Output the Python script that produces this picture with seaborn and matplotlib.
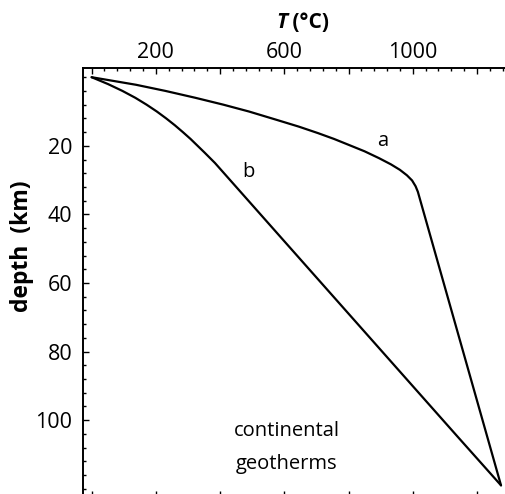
import matplotlib
matplotlib.use("Agg")
import matplotlib.pyplot as plt
import seaborn as sns
import pandas as pd
from matplotlib.ticker import MultipleLocator, FixedLocator

sns.set_style("white")
plt.rcParams['font.family'] = ['Open Sans', 'DejaVu Sans']
for k in ["text.color", "axes.labelcolor", "xtick.color", "ytick.color"]:
    plt.rcParams[k] = "black"

# Curve a (T in °C, depth in km)
a_T = [0, 138, 230, 323, 410, 490, 575, 645, 705, 755, 800, 850, 895, 932,
       960, 982, 998, 1009, 1016, 1275]
a_depth = [0, 2.2, 4.0, 6.0, 8.0, 10.0, 12.4, 14.4, 16.3, 18.0, 19.7, 21.6,
           23.6, 25.4, 27.0, 28.6, 30.1, 31.8, 33.4, 119]
# Curve b
b_T = [0, 51, 96, 136, 171, 203, 232, 259, 284, 308, 330, 352, 384, 597, 1135, 1275]
b_depth = [0, 2, 4, 6, 8, 10, 12, 14, 16, 18, 20, 22, 25, 47.5, 104.3, 119]

x_ticklabels = ["", "200", "", "600", "", "1000", ""]
x_ticks = [0, 200, 400, 600, 800, 1000, 1200]
y_ticks = [20, 40, 60, 80, 100]

df = pd.concat([
    pd.DataFrame({"T": a_T, "depth": a_depth, "curve": "a"}),
    pd.DataFrame({"T": b_T, "depth": b_depth, "curve": "b"}),
])

W, H = 506, 494
fig = plt.figure(figsize=(W / 100, H / 100), dpi=100)
L, R, T_, B = 83.3, 510, 68.3, 497
ax = fig.add_axes([L / W, (H - B) / H, (R - L) / W, (B - T_) / H])

sns.lineplot(data=df, x="T", y="depth", units="curve", estimator=None,
             sort=False, color="black", lw=1.6, ax=ax, legend=False)

ax.set_xlim(-26, 1303)
ax.set_ylim(122.4, -2.6)
ax.set_xlabel("")
ax.set_ylabel("")

ax.xaxis.set_major_locator(FixedLocator(x_ticks))
ax.set_xticklabels(x_ticklabels)
ax.xaxis.set_minor_locator(MultipleLocator(40))
ax.yaxis.set_major_locator(FixedLocator(y_ticks))
ax.set_yticklabels([str(v) for v in y_ticks])
ax.yaxis.set_minor_locator(MultipleLocator(4))

ax.tick_params(axis="x", which="both", direction="in", top=True, bottom=True,
               labeltop=True, labelbottom=False, labelsize=15.5, pad=3.8)
ax.tick_params(axis="y", which="both", direction="in", left=True, right=False,
               labelsize=15.5, pad=8)
ax.tick_params(which="major", length=4.5, width=1.0)
ax.tick_params(which="minor", length=2.5, width=1.0)
for s in ax.spines.values():
    s.set_linewidth(1.4)
    s.set_color("black")

ax.text(907, 18.6, "a", fontsize=14.5, ha="center", va="center")
ax.text(487, 27.6, "b", fontsize=14.5, ha="center", va="center")
ax.text(608, 103.2, "continental", fontsize=14.5, ha="center", va="center")
ax.text(608, 112.7, "geotherms", fontsize=14.5, ha="center", va="center")

yl = 1 - 23 / H
fig.text(287 / W, yl, "T", fontsize=15, fontstyle="italic", weight="bold",
         ha="right", va="center")
fig.text(287 / W, yl, " (°C)", fontsize=15, weight="bold", ha="left", va="center")
fig.text(22 / W, 1 - 246 / H, "depth  (km)", fontsize=16.5, weight="bold",
         rotation=90, ha="center", va="center")

fig.savefig("out.png", dpi=100)
